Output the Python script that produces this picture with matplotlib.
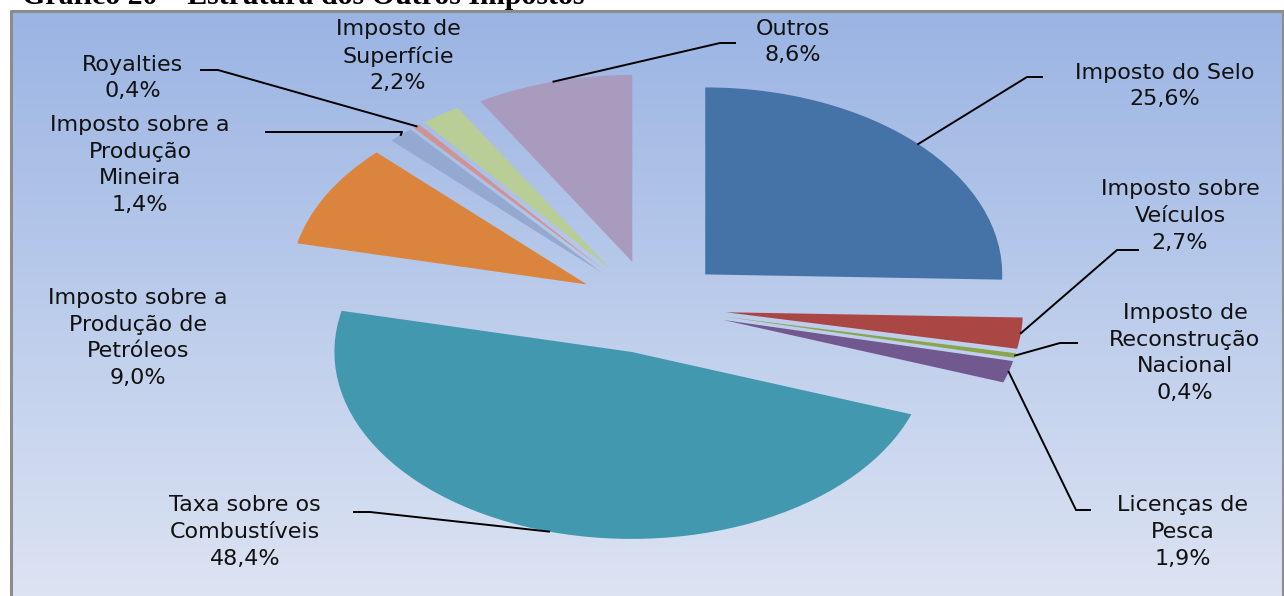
import matplotlib
matplotlib.use("Agg")
import matplotlib.pyplot as plt
import numpy as np
from matplotlib.colors import LinearSegmentedColormap

# data (clockwise from 12 o'clock)
categories = ["Imposto do Selo", "Imposto sobre Veículos", "Imposto de Reconstrução Nacional",
              "Licenças de Pesca", "Taxa sobre os Combustíveis",
              "Imposto sobre a Produção de Petróleos", "Imposto sobre a Produção Mineira",
              "Royalties", "Imposto de Superfície", "Outros"]
shares = [25.6, 2.7, 0.4, 1.9, 48.4, 9.0, 1.4, 0.4, 2.2, 8.6]
label_texts = ["Imposto do Selo", "Imposto sobre\nVeículos", "Imposto de\nReconstrução\nNacional",
               "Licenças de\nPesca", "Taxa sobre os\nCombustíveis",
               "Imposto sobre a\nProdução de\nPetróleos", "Imposto sobre a\nProdução\nMineira",
               "Royalties", "Imposto de\nSuperfície", "Outros"]

colors = ["#4572A7", "#AA4643", "#89A54E", "#71588F", "#4198AF",
          "#DB843D", "#93A9CF", "#D19392", "#B9CD96", "#A99BBD"]

W, H = 1284, 596
CX, CY, RX, RY = 652, 307, 297, 187  # pie centre / radii in pixels


def to_data(x, y):
    return (x - CX) / RX, (CY - y) / RY


# label centre (px), elbow (px), end of horizontal tick (px) -- None if no leader
label_pos = [(1165, 86), (1180, 216), (1185, 353), (1183, 532), (245, 532),
             (138, 338), (140, 165), (133, 78), (398, 56), (793, 42)]
leaders = [((1027, 77), (1042, 77)), ((1117, 250), (1138, 250)), ((1060, 343), (1077, 343)),
           ((1076, 510), (1090, 510)), ((370, 512), (354, 512)),
           None, ((402, 132), (266, 132)), ((218, 70), (201, 70)), None, ((720, 43), (735, 43))]

fig = plt.figure(figsize=(W / 100, H / 100), dpi=100)
ax = fig.add_axes([0, 0, 1, 1])

# gradient background inside frame
x0, y0 = to_data(11, 11)
x1, y1 = to_data(1283, H + 5)
grad = np.linspace(0, 1, 256).reshape(-1, 1)
cmap = LinearSegmentedColormap.from_list("bg", ["#9AB4E3", "#DDE4F3"])
ax.imshow(grad, cmap=cmap, extent=[x0, x1, y1, y0], aspect="auto", zorder=0)
ax.plot([x0, x0, x1, x1], [y1, y0, y0, y1], color="#8C8C8C", lw=2.2, zorder=1,
        solid_capstyle="butt")

wedges, _ = ax.pie(shares, explode=[0.25] * len(shares), startangle=90, counterclock=False,
                   colors=colors, wedgeprops=dict(linewidth=0, zorder=2))

ax.set_aspect("auto")
ax.set_xlim(to_data(0, 0)[0], to_data(W, 0)[0])
ax.set_ylim(to_data(0, H)[1], to_data(0, 0)[1])
ax.axis("off")

for w, txt, val, pos, ld in zip(wedges, label_texts, shares, label_pos, leaders):
    lx, ly = to_data(*pos)
    ax.text(lx, ly, f"{txt}\n{val:.1f}%".replace(".", ","), ha="center", va="center",
            fontsize=16, linespacing=1.42, color="#111111", family="DejaVu Sans", zorder=5)
    if ld is None:
        continue
    mid = np.deg2rad((w.theta1 + w.theta2) / 2)
    ax_ = w.center[0] + w.r * np.cos(mid)
    ay_ = w.center[1] + w.r * np.sin(mid)
    ex, ey = to_data(*ld[0])
    hx, hy = to_data(*ld[1])
    ax.plot([ax_, ex, hx], [ay_, ey, hy], color="black", lw=1.4, zorder=4)

fig.text(22 / W, 1 - 4 / H, "Gráfico 20 – Estrutura dos Outros Impostos", family="Liberation Serif",
         fontsize=21.5, fontweight="bold", ha="left", va="baseline", color="black")

fig.savefig("out.png", dpi=100)
